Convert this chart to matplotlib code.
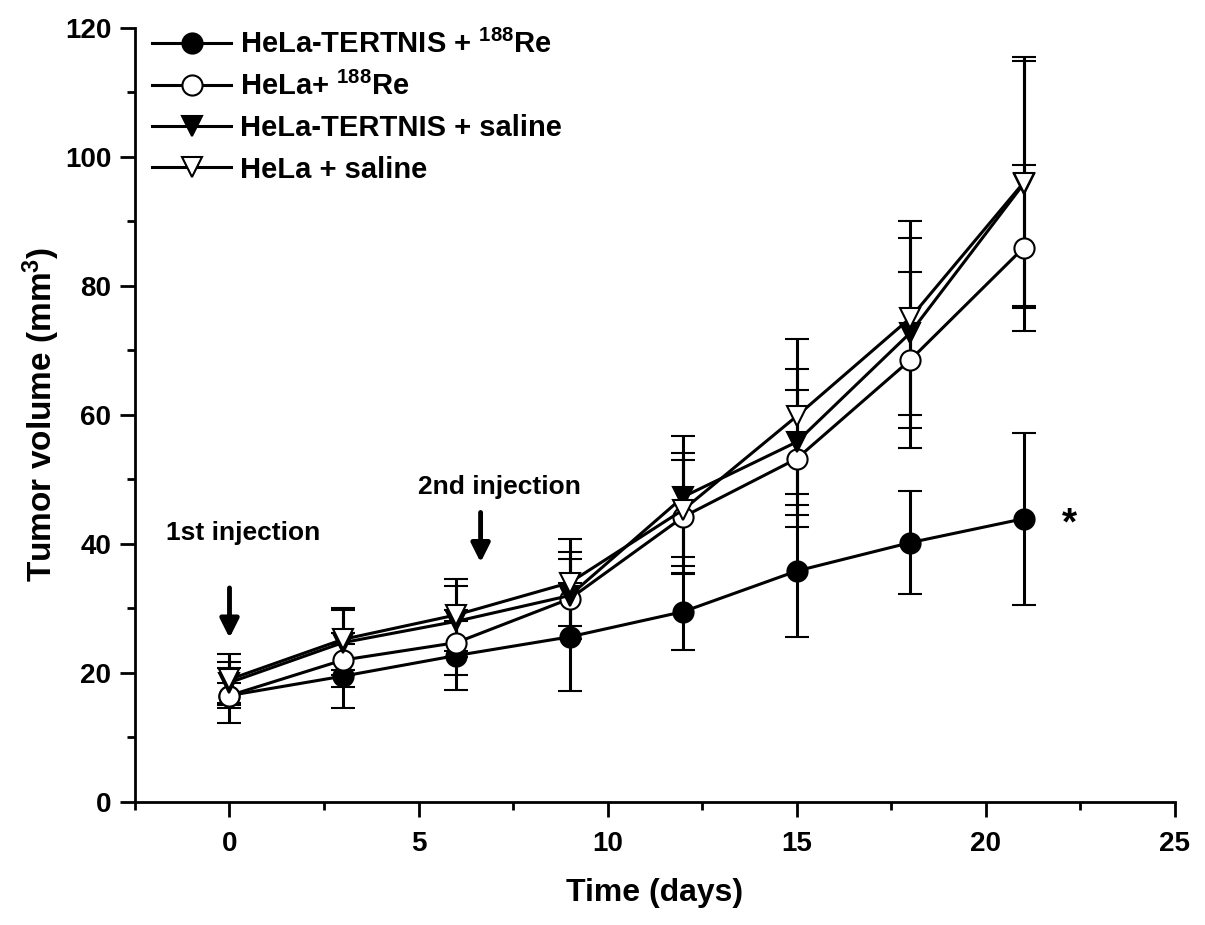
import matplotlib
matplotlib.use('Agg')
import matplotlib.pyplot as plt
from matplotlib.lines import Line2D
from matplotlib.ticker import MultipleLocator

plt.rcParams['font.family'] = ['Liberation Sans', 'DejaVu Sans']
plt.rcParams['font.weight'] = 'bold'
plt.rcParams['mathtext.fontset'] = 'custom'
plt.rcParams['mathtext.bf'] = 'Liberation Sans:bold'
plt.rcParams['mathtext.rm'] = 'Liberation Sans:bold'
plt.rcParams['mathtext.default'] = 'bf'

# --- datos ---
days = [0, 3, 6, 9, 12, 15, 18, 21]

tert_re = [16.5, 19.5, 22.7, 25.6, 29.5, 35.8, 40.2, 43.9]
tert_re_err = [4.3, 5.0, 5.4, 8.4, 6.0, 10.2, 8.0, 13.3]

hela_re = [16.5, 22.0, 24.7, 31.5, 44.2, 53.2, 68.5, 85.9]
hela_re_err = [2.0, 4.2, 5.0, 6.2, 8.8, 10.6, 13.7, 12.9]

tert_saline = [18.5, 24.7, 28.0, 32.0, 47.3, 55.8, 72.7, 95.8]
tert_saline_err = [3.2, 5.0, 5.5, 6.8, 9.4, 11.3, 14.7, 19.0]

hela_saline = [19.0, 25.2, 29.0, 34.0, 45.3, 59.8, 75.0, 96.0]
hela_saline_err = [4.0, 4.8, 5.6, 6.8, 8.8, 12.0, 15.0, 19.5]

labels = ['HeLa-TERTNIS + $^{188}$Re', 'HeLa+ $^{188}$Re',
          'HeLa-TERTNIS + saline', 'HeLa + saline']

fig = plt.figure(figsize=(12.05, 9.25), dpi=100)
ax = fig.add_axes([0.112, 0.133, 0.863, 0.837])

series = [
    (tert_re, tert_re_err, 'o', 'black'),
    (hela_re, hela_re_err, 'o', 'white'),
    (tert_saline, tert_saline_err, 'v', 'black'),
    (hela_saline, hela_saline_err, 'v', 'white'),
]

handles = []
for (vals, errs, mk, fc), lab in zip(series, labels):
    ax.errorbar(days, vals, yerr=errs, color='black', lw=2.2, elinewidth=2.2,
                capsize=8.5, capthick=2.2, marker=mk, markersize=14.5,
                markerfacecolor=fc, markeredgecolor='black', markeredgewidth=1.5)
    # leyenda sin barras de error
    handles.append(Line2D([], [], color='black', lw=2.2, marker=mk, markersize=14.5,
                          markerfacecolor=fc, markeredgecolor='black',
                          markeredgewidth=1.5, label=lab))

ax.set_xlim(-2.5, 25)
ax.set_ylim(0, 120)
ax.xaxis.set_major_locator(MultipleLocator(5))
ax.xaxis.set_minor_locator(MultipleLocator(2.5))
ax.yaxis.set_major_locator(MultipleLocator(20))
ax.yaxis.set_minor_locator(MultipleLocator(10))

for s in ['top', 'right']:
    ax.spines[s].set_visible(False)
for s in ['left', 'bottom']:
    ax.spines[s].set_linewidth(2)

ax.tick_params(which='major', direction='out', length=11, width=2, labelsize=20, pad=6)
ax.tick_params(axis='x', which='major', pad=10)
ax.tick_params(which='minor', direction='out', length=6, width=2)
for t in ax.get_xticklabels() + ax.get_yticklabels():
    t.set_fontweight('bold')

ax.set_xlabel('Time (days)', fontsize=23, fontweight='bold', labelpad=15)
ax.set_ylabel('Tumor volume (mm$^3$)', fontsize=24, fontweight='bold', labelpad=2)

# flechas de inyeccion
ax.annotate('', xy=(0, 25.0), xytext=(0, 33.6),
            arrowprops=dict(arrowstyle='-|>', lw=3.5, color='black', mutation_scale=28))
ax.text(0.35, 41.7, '1st injection', fontsize=19, fontweight='bold', ha='center', va='center')
ax.annotate('', xy=(6.64, 36.7), xytext=(6.64, 45.3),
            arrowprops=dict(arrowstyle='-|>', lw=3.5, color='black', mutation_scale=28))
ax.text(7.14, 48.8, '2nd injection', fontsize=19, fontweight='bold', ha='center', va='center')

ax.text(22.2, 43.0, '*', fontsize=28, fontweight='bold', ha='center', va='center')

leg = ax.legend(handles=handles, loc='upper left', bbox_to_anchor=(0.0, 1.02),
                frameon=False, fontsize=21, handlelength=2.7, labelspacing=0.45,
                handletextpad=0.3, borderaxespad=0.2)
for t in leg.get_texts():
    t.set_fontweight('bold')

fig.savefig('out.png', dpi=100)
